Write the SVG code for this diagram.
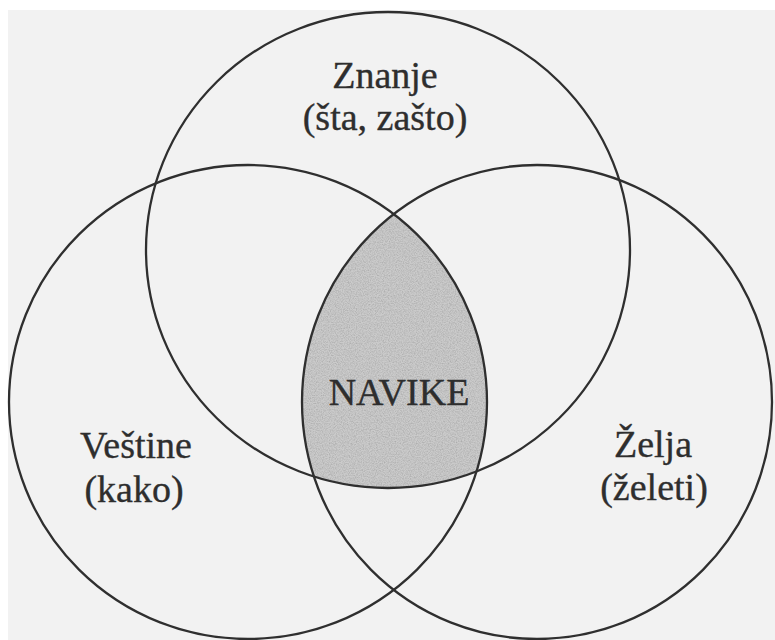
<svg xmlns="http://www.w3.org/2000/svg" width="775" height="640" viewBox="0 0 775 640">
  <style>
    .ring { fill: none; stroke: #2f2f2f; stroke-width: 2.3; }
    .label { font-family: "Liberation Serif", "Times New Roman", serif; font-size: 38px; fill: #2e2e2e; stroke: #2e2e2e; stroke-width: 0.35; text-anchor: middle; }
  </style>
  <defs>
    <!-- circle outlines reused for the clipped centre -->
    <ellipse id="knowledgeShape" cx="388" cy="250" rx="242" ry="238"/>
    <ellipse id="skillsShape" cx="248" cy="402" rx="239" ry="237"/>
    <ellipse id="desireShape" cx="537" cy="402" rx="235" ry="237"/>
    <clipPath id="clipSkills"><use href="#skillsShape"/></clipPath>
    <clipPath id="clipDesire"><use href="#desireShape"/></clipPath>
    <!-- stippled print screen for the shaded centre -->
    <filter id="grain" x="0" y="0" width="100%" height="100%">
      <feTurbulence type="fractalNoise" baseFrequency="0.85" numOctaves="2" seed="7" result="noise"/>
      <feColorMatrix in="noise" type="matrix" values="0 0 0 0 0.25  0 0 0 0 0.25  0 0 0 0 0.25  1 0 0 0 -0.35" result="dots"/>
      <feComposite in="dots" in2="SourceGraphic" operator="in" result="clipped"/>
      <feMerge>
        <feMergeNode in="SourceGraphic"/>
        <feMergeNode in="clipped"/>
      </feMerge>
    </filter>
  </defs>

  <!-- page -->
  <rect width="775" height="640" fill="#ffffff"/>
  <rect x="8" y="10" width="767" height="630" fill="#f2f2f2"/>

  <!-- centre where all three circles overlap -->
  <g id="habits">
    <g clip-path="url(#clipSkills)">
      <g clip-path="url(#clipDesire)">
        <use href="#knowledgeShape" fill="#cbcbcb" filter="url(#grain)"/>
      </g>
    </g>
    <text class="label" x="399" y="405">NAVIKE</text>
  </g>

  <g id="knowledge">
    <use href="#knowledgeShape" class="ring"/>
    <text class="label" x="385" y="88">Znanje</text>
    <text class="label" x="385" y="130">(šta, zašto)</text>
  </g>

  <g id="skills">
    <use href="#skillsShape" class="ring"/>
    <text class="label" x="136" y="458">Veštine</text>
    <text class="label" x="134" y="502">(kako)</text>
  </g>

  <g id="desire">
    <use href="#desireShape" class="ring"/>
    <text class="label" x="653" y="457">Želja</text>
    <text class="label" x="654" y="500">(želeti)</text>
  </g>
</svg>
